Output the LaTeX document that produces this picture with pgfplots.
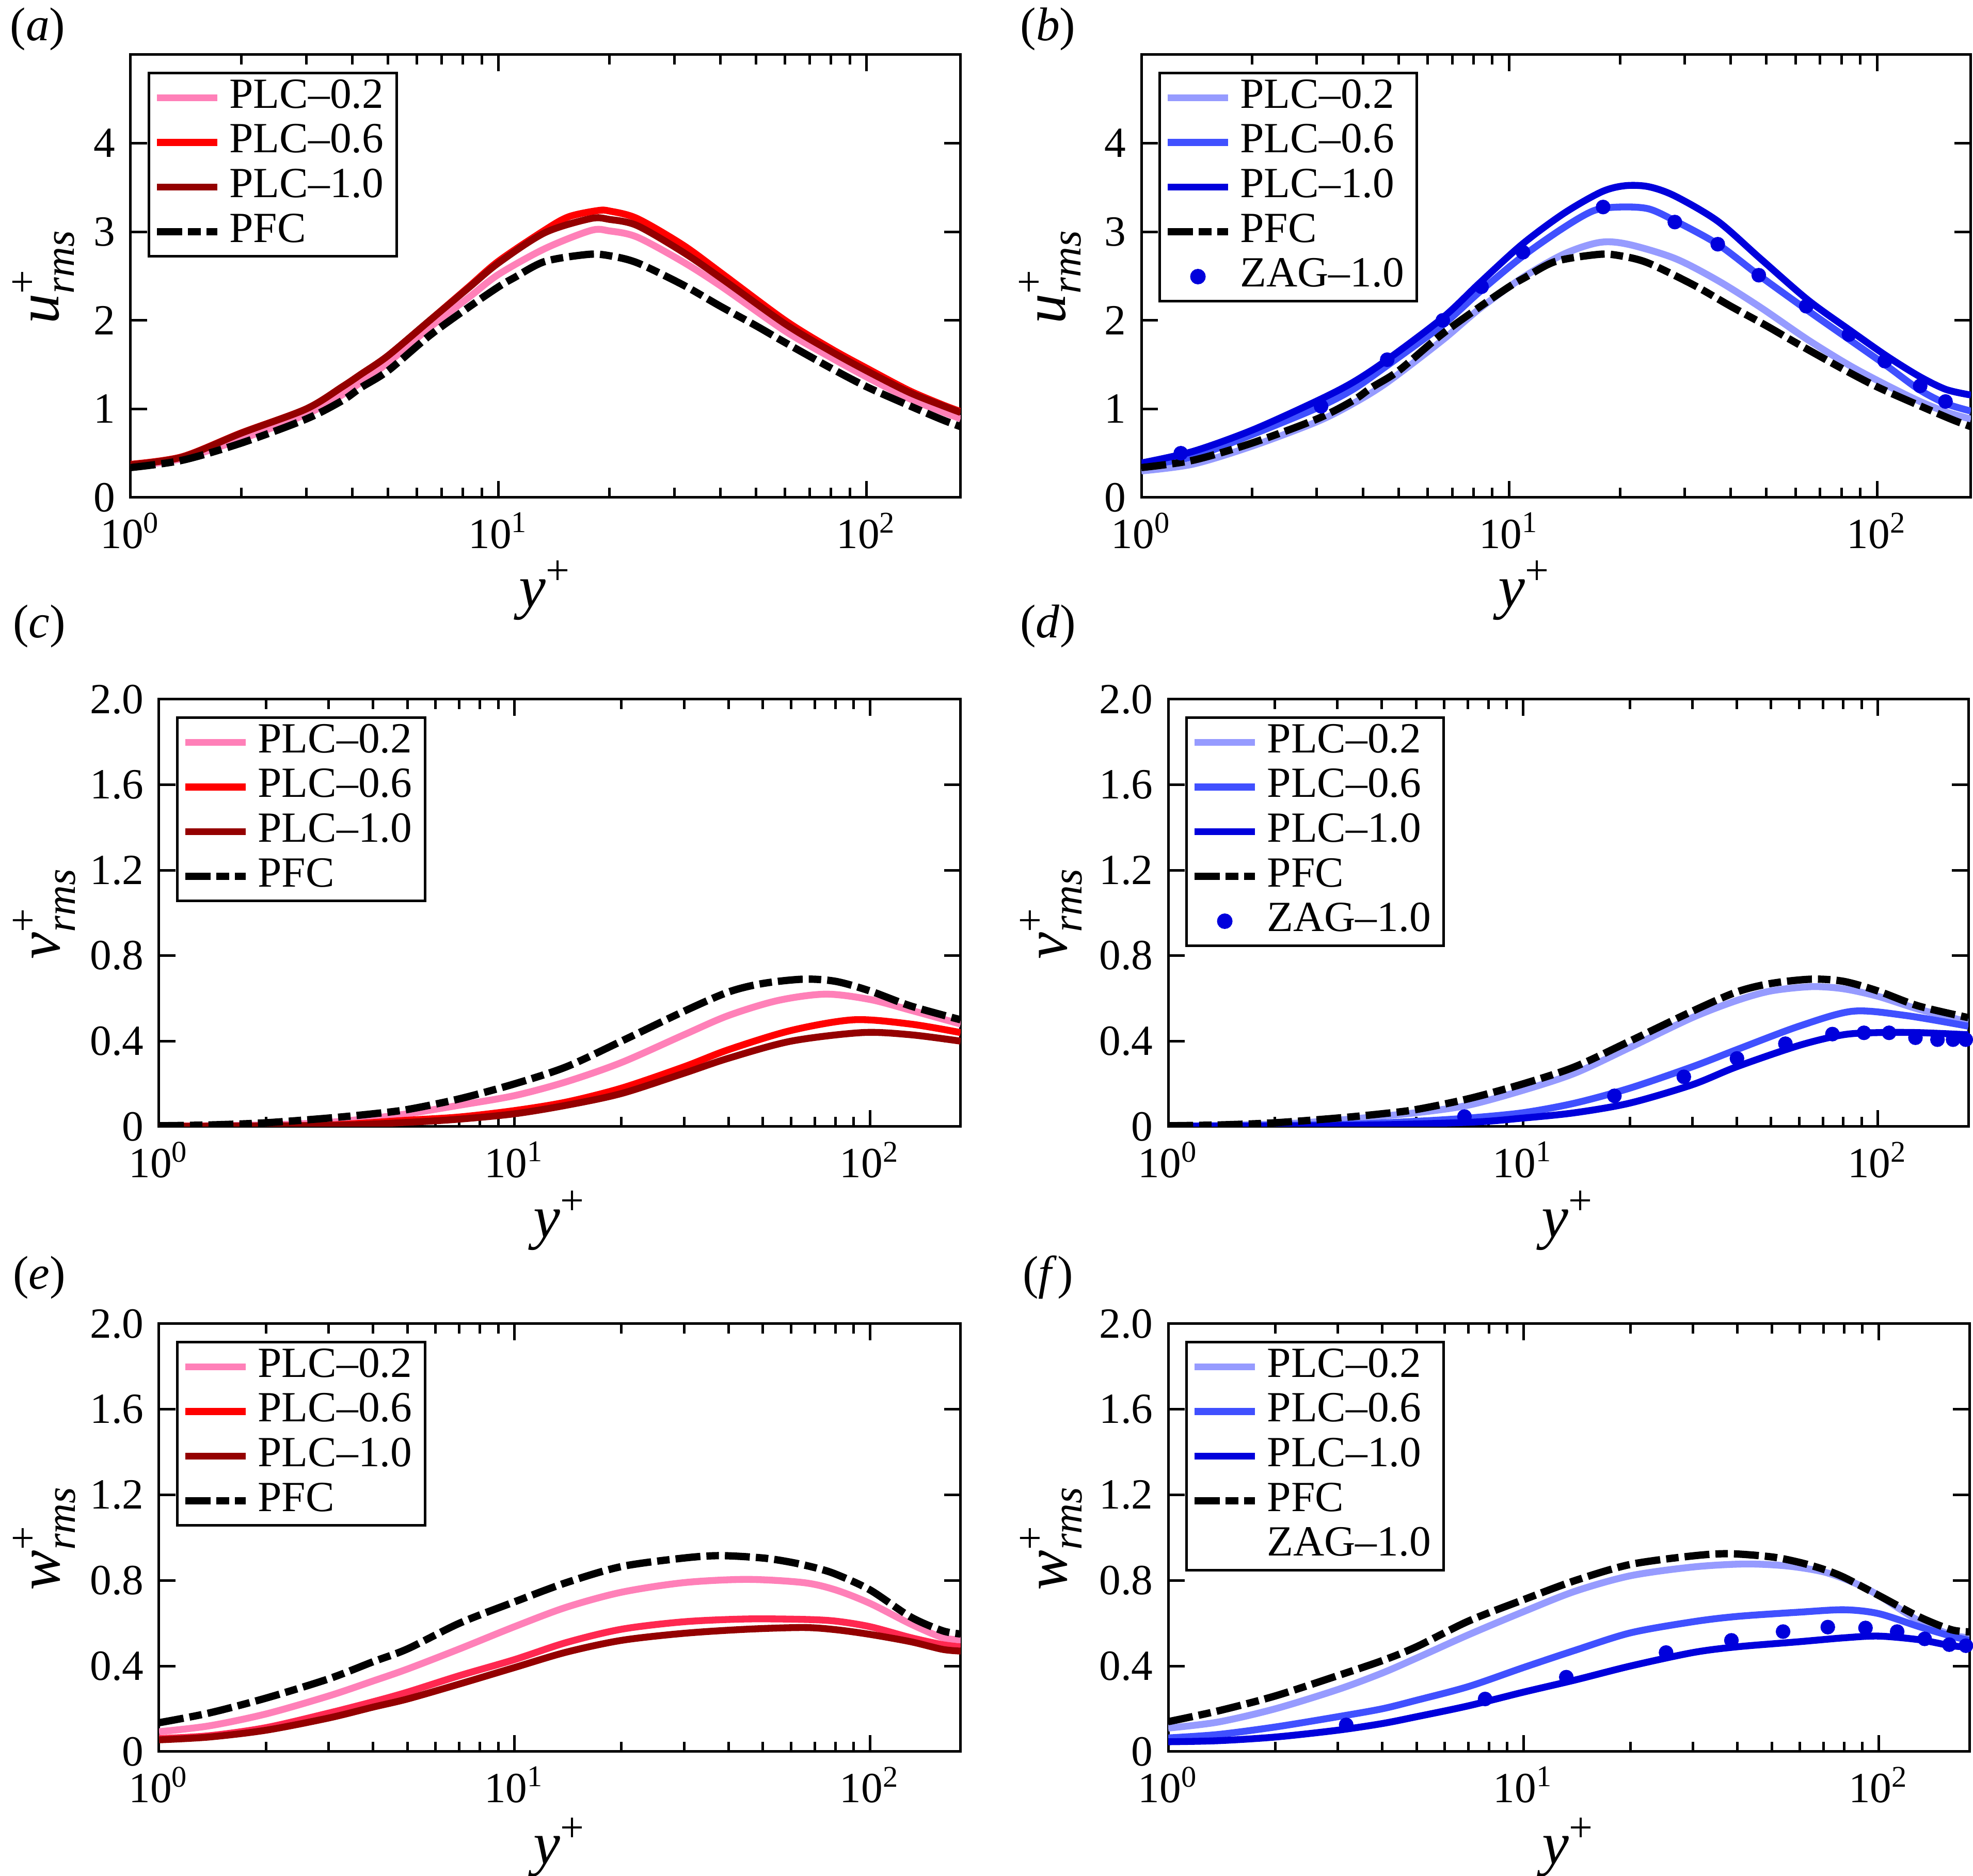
\documentclass[border=0pt]{standalone}
\usepackage{amsmath}
\usepackage{fontspec}
\setmainfont{Liberation Serif}
\usepackage{pgfplots}
\pgfplotsset{compat=1.18}
\definecolor{rA}{RGB}{255,128,184}
\definecolor{rB}{RGB}{255,0,0}
\definecolor{rE}{RGB}{255,40,80}
\definecolor{rC}{RGB}{148,0,0}
\definecolor{bA}{RGB}{150,155,255}
\definecolor{bB}{RGB}{64,80,255}
\definecolor{bC}{RGB}{0,0,220}
\pgfplotsset{
  legend image code/.code={\draw[mark repeat=2,mark phase=2,#1] plot coordinates {(0pt,0pt)(7pt,0pt)(14pt,0pt)};},
  scale only axis, xmin=1, xmax=180, ymin=0,
  axis line style={line width=0.6pt},
  every tick/.append style={black, line width=0.6pt},
  tick align=inside, xtick pos=both, ytick pos=both,
  major tick length=3.8pt, minor tick length=2.3pt,
  xtick={1,10,100}, xticklabels={10\textsuperscript{0},10\textsuperscript{1},10\textsuperscript{2}},
  minor xtick={2,3,4,5,6,7,8,9,20,30,40,50,60,70,80,90},
  tick label style={font=\fontsize{10}{12}\selectfont},
  label style={font=\fontsize{14}{16}\selectfont},
  xlabel={\textit{y}\textsuperscript{+}},
  legend cell align=left,
  legend style={at={(0,1)}, anchor=north west, xshift=4pt, yshift=-4pt, draw=black, line width=0.6pt,
    font=\fontsize{10}{12}\selectfont, inner xsep=1pt, inner ysep=0.5pt, row sep=0pt,
    nodes={inner xsep=2pt, inner ysep=0.6pt, text height=7pt, text depth=2.2pt}},
 myuax/.style={ymax=5, ytick={0,1,2,3,4}, yticklabels={0,1,2,3,4}},
 myvax/.style={ymax=2, ytick={0,0.4,0.8,1.2,1.6,2.0}, yticklabels={0,0.4,0.8,1.2,1.6,2.0}},
}
\tikzset{
 myline/.style={line width=1.6pt, smooth},
 mypfc/.style={black, line width=1.7pt, smooth, dash pattern=on 5.8pt off 1.4pt on 2.9pt off 1.4pt},
 myzag/.style={only marks, mark=*, mark size=1.5pt, color=bC},
}
\begin{document}
\begin{tikzpicture}
\path[use as bounding box] (0,0) rectangle (458.64pt,436.2pt);
\node at (8.76pt,429.36pt) {\fontsize{11}{13}\selectfont(\textit{a})};
\node at (243.6pt,429.36pt) {\fontsize{11}{13}\selectfont(\textit{b})};
\node at (9.12pt,290.64pt) {\fontsize{11}{13}\selectfont(\textit{c})};
\node at (243.6pt,290.64pt) {\fontsize{11}{13}\selectfont(\textit{d})};
\node at (9.12pt,139.2pt) {\fontsize{11}{13}\selectfont(\textit{e})};
\node at (243.6pt,139.2pt) {\fontsize{11}{13}\selectfont(\textit{f})};

% (a)
\begin{semilogxaxis}[myuax, at={(30.36pt,320.52pt)}, anchor=south west, width=192.96pt, height=102.96pt,
  ylabel={$\textit{u}^{\textrm{+}}_{\textit{rms}}$},
  ylabel style={at={(axis description cs:-0.105,0.5)}, anchor=center},
  xlabel style={at={(axis description cs:0.5,-0.21)}, anchor=center}]
\addplot[rA, myline] coordinates {(1,0.35)(1.38,0.44)(2,0.66)(3,0.94)(3.76,1.16)(4.22,1.30)(5,1.52)(6.5,1.92)(8.3,2.26)(10,2.52)(13.35,2.81)(17.8,3.015)(20,3.01)(23.8,2.94)(31.7,2.66)(40.4,2.38)(60,1.88)(80,1.58)(100,1.36)(130,1.12)(160,0.97)(180,0.89)};
\addlegendentry{PLC--0.2}
\addplot[rB, myline] coordinates {(1,0.375)(1.38,0.46)(2,0.73)(3,1.00)(3.76,1.25)(4.22,1.39)(5,1.60)(6.5,2.00)(8.3,2.38)(10,2.67)(13.35,3.02)(15.5,3.17)(18.6,3.24)(20,3.235)(23.8,3.15)(31.7,2.85)(40.4,2.53)(60,2.00)(80,1.68)(100,1.46)(130,1.21)(160,1.05)(180,0.97)};
\addlegendentry{PLC--0.6}
\addplot[rC, myline] coordinates {(1,0.37)(1.38,0.456)(2,0.727)(3,1.00)(3.76,1.25)(4.22,1.39)(5,1.60)(6.5,2.00)(8.3,2.37)(10,2.65)(13.35,2.99)(17.8,3.15)(20,3.14)(23.8,3.07)(31.7,2.77)(40.4,2.47)(60,1.96)(80,1.65)(100,1.43)(130,1.19)(160,1.04)(180,0.96)};
\addlegendentry{PLC--1.0}
\addplot[mypfc] coordinates {(1,0.338)(1.38,0.42)(2,0.615)(3,0.886)(3.76,1.094)(4.22,1.24)(5,1.43)(6.5,1.83)(8.3,2.15)(10,2.38)(11,2.48)(13.35,2.665)(17.5,2.745)(20,2.73)(23.8,2.65)(31.7,2.40)(40,2.16)(50,1.94)(60,1.75)(80,1.46)(100,1.25)(130,1.04)(160,0.88)(180,0.80)};
\addlegendentry{PFC}
\end{semilogxaxis}

% (b)
\begin{semilogxaxis}[myuax, at={(265.32pt,320.52pt)}, anchor=south west, width=192.84pt, height=102.96pt,
  ylabel={$\textit{u}^{\textrm{+}}_{\textit{rms}}$},
  ylabel style={at={(axis description cs:-0.110,0.5)}, anchor=center},
  xlabel style={at={(axis description cs:0.462,-0.21)}, anchor=center}]
\addplot[bA, myline] coordinates {(1,0.30)(1.38,0.376)(2,0.58)(3,0.855)(3.76,1.06)(4.66,1.30)(6.6,1.78)(8.3,2.13)(10.85,2.48)(14.1,2.75)(17.6,2.88)(21,2.86)(28.2,2.70)(36.9,2.45)(48.1,2.15)(64.9,1.78)(84.3,1.49)(106,1.27)(130,1.09)(154,0.966)(180,0.886)};
\addlegendentry{PLC--0.2}
\addplot[bB, myline] coordinates {(1,0.36)(1.38,0.46)(2,0.71)(3,1.01)(3.76,1.22)(4.66,1.49)(6.6,1.95)(8.3,2.32)(10.85,2.72)(14.1,3.05)(17,3.24)(20,3.28)(23.9,3.26)(28.2,3.125)(36.9,2.86)(47.7,2.51)(64.9,2.11)(84.3,1.78)(106,1.49)(130,1.22)(154,1.06)(180,0.976)};
\addlegendentry{PLC--0.6}
\addplot[bC, myline] coordinates {(1,0.39)(1.38,0.52)(2,0.76)(3,1.09)(3.76,1.30)(4.66,1.556)(6.6,2.03)(8.3,2.42)(10.85,2.86)(14.1,3.21)(17.8,3.45)(20.6,3.52)(23.9,3.51)(28.2,3.405)(36.9,3.12)(48.1,2.70)(64.9,2.23)(84.3,1.89)(106,1.60)(130,1.37)(154,1.22)(180,1.157)};
\addlegendentry{PLC--1.0}
\addplot[mypfc] coordinates {(1,0.338)(1.38,0.42)(2,0.615)(3,0.886)(3.76,1.094)(4.22,1.24)(5,1.43)(6.5,1.83)(8.3,2.15)(10,2.38)(11,2.48)(13.35,2.665)(17.5,2.745)(20,2.73)(23.8,2.65)(31.7,2.40)(40,2.16)(50,1.94)(60,1.75)(80,1.46)(100,1.25)(130,1.04)(160,0.88)(180,0.80)};
\addlegendentry{PFC}
\addplot[myzag] coordinates {(1.28,0.50)(3.08,1.03)(4.66,1.556)(6.6,2.00)(8.41,2.38)(10.9,2.77)(18.0,3.28)(28.2,3.11)(36.9,2.86)(47.7,2.51)(64.2,2.16)(83.9,1.84)(105,1.54)(131,1.26)(153.5,1.084)};
\addlegendentry{ZAG--1.0}
\end{semilogxaxis}

% (c)
\begin{semilogxaxis}[myvax, at={(36.96pt,174.24pt)}, anchor=south west, width=186.36pt, height=99.36pt,
  ylabel={$\textit{v}^{\textrm{+}}_{\textit{rms}}$},
  ylabel style={at={(axis description cs:-0.143,0.5)}, anchor=center},
  xlabel style={at={(axis description cs:0.5,-0.22)}, anchor=center}]
\addplot[rA, myline] coordinates {(1,0.002)(2,0.008)(3,0.02)(4,0.04)(5,0.06)(7,0.10)(10,0.145)(14,0.21)(20,0.30)(30,0.43)(40,0.52)(55,0.59)(75,0.62)(100,0.595)(130,0.545)(180,0.48)};
\addlegendentry{PLC--0.2}
\addplot[rB, myline] coordinates {(1,0.001)(2,0.003)(3,0.007)(5,0.03)(7,0.045)(10,0.075)(14,0.115)(20,0.18)(30,0.28)(40,0.36)(60,0.45)(90,0.50)(130,0.48)(180,0.44)};
\addlegendentry{PLC--0.6}
\addplot[rC, myline] coordinates {(1,0.001)(3,0.006)(5,0.02)(7,0.035)(10,0.06)(14,0.10)(20,0.155)(30,0.25)(40,0.32)(60,0.40)(95,0.44)(130,0.43)(180,0.40)};
\addlegendentry{PLC--1.0}
\addplot[mypfc] coordinates {(1,0.004)(1.4,0.008)(2,0.018)(3,0.04)(4,0.06)(5,0.08)(7,0.13)(10,0.20)(14,0.28)(20,0.40)(30,0.54)(40,0.63)(50,0.67)(65,0.69)(80,0.68)(100,0.635)(130,0.565)(180,0.50)};
\addlegendentry{PFC}
\end{semilogxaxis}

% (d)
\begin{semilogxaxis}[myvax, at={(271.56pt,174.24pt)}, anchor=south west, width=186pt, height=99.36pt,
  ylabel={$\textit{v}^{\textrm{+}}_{\textit{rms}}$},
  ylabel style={at={(axis description cs:-0.146,0.5)}, anchor=center},
  xlabel style={at={(axis description cs:0.5,-0.22)}, anchor=center}]
\addplot[bA, myline] coordinates {(1,0.002)(2,0.012)(3,0.03)(5,0.065)(7,0.10)(10,0.17)(14,0.25)(20,0.37)(30,0.51)(40,0.59)(50,0.635)(65,0.655)(80,0.645)(100,0.61)(130,0.55)(180,0.49)};
\addlegendentry{PLC--0.2}
\addplot[bB, myline] coordinates {(1,0.001)(3,0.01)(5,0.025)(7,0.04)(10,0.065)(14,0.11)(20,0.18)(30,0.28)(40,0.36)(60,0.47)(85,0.54)(120,0.52)(180,0.47)};
\addlegendentry{PLC--0.6}
\addplot[bC, myline] coordinates {(1,0.001)(3,0.005)(7,0.02)(10,0.04)(14,0.065)(20,0.11)(30,0.196)(40,0.28)(60,0.38)(80,0.43)(100,0.44)(130,0.44)(180,0.43)};
\addlegendentry{PLC--1.0}
\addplot[mypfc] coordinates {(1,0.004)(1.4,0.008)(2,0.018)(3,0.04)(4,0.06)(5,0.08)(7,0.13)(10,0.20)(14,0.28)(20,0.40)(30,0.54)(40,0.63)(50,0.67)(65,0.69)(80,0.68)(100,0.635)(130,0.565)(180,0.51)};
\addlegendentry{PFC}
\addplot[myzag] coordinates {(6.84,0.047)(18.1,0.144)(28.4,0.233)(40.1,0.319)(54.9,0.388)(74.5,0.433)(91.4,0.439)(107.6,0.439)(127.7,0.416)(147.3,0.407)(163,0.407)(177,0.407)};
\addlegendentry{ZAG--1.0}
\end{semilogxaxis}

% (e)
\begin{semilogxaxis}[myvax, at={(36.96pt,28.92pt)}, anchor=south west, width=186.36pt, height=99.48pt,
  ylabel={$\textit{w}^{\textrm{+}}_{\textit{rms}}$},
  ylabel style={at={(axis description cs:-0.143,0.5)}, anchor=center},
  xlabel style={at={(axis description cs:0.5,-0.224)}, anchor=center}]
\addplot[rA, myline] coordinates {(1,0.093)(1.38,0.12)(2,0.176)(3,0.26)(4,0.33)(5,0.386)(7,0.48)(10,0.584)(14,0.675)(20,0.745)(30,0.79)(45,0.805)(65,0.79)(80,0.756)(100,0.693)(130,0.597)(160,0.533)(180,0.523)};
\addlegendentry{PLC--0.2}
\addplot[rE, myline, forget plot] coordinates {(1,0.061)(1.38,0.074)(2,0.112)(3,0.18)(4,0.233)(5,0.278)(7,0.355)(10,0.43)(14,0.51)(20,0.572)(30,0.607)(45,0.62)(65,0.618)(80,0.61)(100,0.584)(130,0.533)(160,0.50)(180,0.49)};
\addlegendimage{rB, myline}
\addlegendentry{PLC--0.6}
\addplot[rC, myline] coordinates {(1,0.055)(1.38,0.068)(2,0.10)(3,0.157)(4,0.208)(5,0.246)(7,0.316)(10,0.393)(14,0.465)(20,0.52)(30,0.553)(45,0.572)(65,0.58)(80,0.57)(100,0.548)(130,0.514)(160,0.478)(180,0.47)};
\addlegendentry{PLC--1.0}
\addplot[mypfc] coordinates {(1,0.135)(1.38,0.18)(2,0.25)(3,0.34)(4,0.42)(5,0.48)(7,0.60)(10,0.70)(14,0.79)(20,0.865)(30,0.905)(38,0.916)(50,0.905)(60,0.885)(70,0.86)(80,0.83)(100,0.756)(130,0.63)(160,0.565)(180,0.55)};
\addlegendentry{PFC}
\end{semilogxaxis}

% (f)
\begin{semilogxaxis}[myvax, at={(271.56pt,28.92pt)}, anchor=south west, width=186.24pt, height=99.48pt,
  ylabel={$\textit{w}^{\textrm{+}}_{\textit{rms}}$},
  ylabel style={at={(axis description cs:-0.146,0.5)}, anchor=center},
  xlabel style={at={(axis description cs:0.5,-0.224)}, anchor=center}]
\addplot[bA, myline] coordinates {(1,0.11)(1.38,0.138)(2,0.20)(3,0.29)(4,0.367)(5,0.437)(7,0.546)(10,0.654)(14,0.75)(20,0.822)(30,0.863)(42,0.877)(55,0.868)(70,0.84)(85,0.79)(100,0.73)(130,0.61)(160,0.546)(180,0.533)};
\addlegendentry{PLC--0.2}
\addplot[bB, myline] coordinates {(1,0.064)(1.38,0.08)(2,0.115)(3,0.163)(4,0.20)(5,0.24)(7,0.304)(10,0.393)(14,0.474)(20,0.555)(30,0.607)(40,0.632)(60,0.652)(80,0.663)(100,0.645)(130,0.584)(160,0.54)(180,0.52)};
\addlegendentry{PLC--0.6}
\addplot[bC, myline] coordinates {(1,0.046)(1.38,0.051)(2,0.068)(3,0.10)(4,0.131)(5,0.163)(7,0.214)(10,0.278)(14,0.335)(20,0.40)(30,0.463)(40,0.49)(60,0.514)(80,0.532)(100,0.54)(130,0.523)(160,0.495)(180,0.489)};
\addlegendentry{PLC--1.0}
\addplot[mypfc] coordinates {(1,0.14)(1.38,0.19)(2,0.26)(3,0.355)(4,0.425)(5,0.49)(7,0.61)(10,0.71)(14,0.80)(20,0.875)(30,0.915)(38,0.925)(50,0.91)(60,0.884)(70,0.852)(80,0.814)(100,0.73)(130,0.63)(160,0.57)(180,0.56)};
\addlegendentry{PFC}
\addplot[myzag, forget plot] coordinates {(3.17,0.125)(7.8,0.246)(13.2,0.348)(25.2,0.463)(38.5,0.52)(53.8,0.561)(71.9,0.582)(91.8,0.578)(112.7,0.561)(134.7,0.527)(158,0.50)(176,0.495)};
\addlegendimage{empty legend}
\addlegendentry{ZAG--1.0}
\end{semilogxaxis}
\end{tikzpicture}
\end{document}
